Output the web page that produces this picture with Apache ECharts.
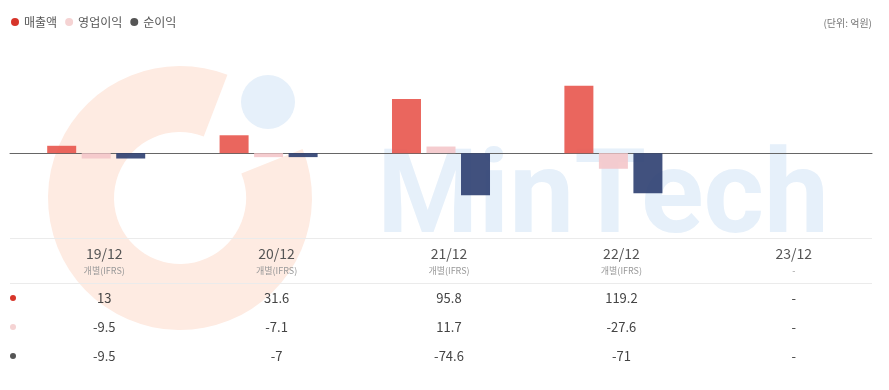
<!DOCTYPE html>
<html>
<head>
<meta charset="utf-8">
<script src="https://cdn.jsdelivr.net/npm/echarts@6/dist/echarts.min.js"></script>
<style>
  html, body { margin: 0; padding: 0; background: #fff; }
  #chart { width: 889px; height: 390px; }
</style>
</head>
<body>
<div id="chart"></div>
<script>
var periods = ['19/12', '20/12', '21/12', '22/12', '23/12'];
var basis = ['개별(IFRS)', '개별(IFRS)', '개별(IFRS)', '개별(IFRS)', '-'];
var seriesNames = ['매출액', '영업이익', '순이익'];
var sales = [13, 31.6, 95.8, 119.2, null];
var opProfit = [-9.5, -7.1, 11.7, -27.6, null];
var netProfit = [-9.5, -7, -74.6, -71, null];

var barColors = ['#e8554d', '#f4c7ca', '#2c3e70'];
var dotColors = ['#d7352a', '#f5d3d3', '#555555'];
var font = '"Noto Sans CJK KR", "Noto Sans", sans-serif';

var myChart = echarts.init(document.getElementById('chart'));

function fmt(v) {
	return v == null ? '-' : String(v);
}

// 표 행 (값 표시용 x축)
function rowAxis(values, margin) {
	return {
		type: 'category',
		gridIndex: 1,
		position: 'bottom',
		data: values.map(fmt),
		axisLine: { show: false },
		axisTick: { show: false },
		axisLabel: {
			interval: 0,
			margin: margin,
			color: '#444',
			fontSize: 13,
			fontFamily: font,
			lineHeight: 20
		}
	};
}

var allValues = [sales, opProfit, netProfit];

var option = {
	animation: false,
	backgroundColor: '#fff',
	legend: {
		left: 6,
		top: 11,
		icon: 'circle',
		itemWidth: 8,
		itemHeight: 8,
		itemGap: 8,
		textStyle: { color: '#555', fontSize: 12, fontFamily: font },
		data: seriesNames.map(function (n, i) {
			return { name: n, itemStyle: { color: dotColors[i], opacity: 1 } };
		})
	},
	grid: [
		{ left: 10, right: 17, top: 40, bottom: 152 },
		{ left: 18, right: 9, top: 236, height: 2 }
	],
	xAxis: [{
		type: 'category',
		gridIndex: 0,
		data: periods,
		axisLine: { onZero: true, lineStyle: { color: '#666', width: 1 } },
		axisTick: { show: false },
		axisLabel: { show: false }
	}, {
		type: 'category',
		gridIndex: 1,
		position: 'bottom',
		data: periods,
		axisLine: { show: false },
		axisTick: { show: false },
		axisLabel: {
			interval: 0,
			margin: 6,
			formatter: function (v, i) {
				return '{a|' + v + '}\n{b|' + basis[i] + '}';
			},
			rich: {
				a: { color: '#555', fontSize: 14, lineHeight: 20, fontFamily: font },
				b: { color: '#999', fontSize: 9, lineHeight: 14, fontFamily: font }
			}
		}
	},
		rowAxis(sales, 50),
		rowAxis(opProfit, 79),
		rowAxis(netProfit, 108)
	],
	yAxis: [{
		type: 'value',
		gridIndex: 0,
		min: -150,
		max: 200,
		show: false,
		splitLine: { show: false }
	}, {
		type: 'value',
		gridIndex: 1,
		show: false
	}],
	series: allValues.map(function (vals, i) {
		return {
			name: seriesNames[i],
			type: 'bar',
			xAxisIndex: 0,
			yAxisIndex: 0,
			barWidth: 29,
			barGap: '19%',
			data: vals,
			itemStyle: { color: barColors[i], opacity: 0.9 },
			z: 5
		};
	}),
	graphic: [
		// 워터마크
		{
			type: 'sector', z: -10, silent: true,
			shape: { cx: 180, cy: 198, r0: 66, r: 132, startAngle: -0.38, endAngle: 5.08, clockwise: true },
			style: { fill: '#feebe2' }
		},
		{
			type: 'circle', z: -10, silent: true,
			shape: { cx: 268, cy: 102, r: 27 },
			style: { fill: '#e6f0fa' }
		},
		{
			type: 'text', z: -10, silent: true,
			x: 377, y: 203,
			style: {
				text: 'MinTech', fill: '#e6f0fa',
				font: 'bold 116px Roboto', verticalAlign: 'middle'
			}
		},
		// 단위
		{
			type: 'text', right: 17, top: 18,
			style: { text: '(단위: 억원)', fill: '#777', fontSize: 10, fontFamily: font }
		},
		// 표 구분선
		{
			type: 'line', z: 1,
			shape: { x1: 10, y1: 238.5, x2: 872, y2: 238.5 },
			style: { stroke: '#ebebeb', lineWidth: 1 }
		},
		{
			type: 'line', z: 1,
			shape: { x1: 10, y1: 283.5, x2: 872, y2: 283.5 },
			style: { stroke: '#ebebeb', lineWidth: 1 }
		},
		// 행 표시 점
		{ type: 'circle', shape: { cx: 13, cy: 298, r: 3 }, style: { fill: dotColors[0] } },
		{ type: 'circle', shape: { cx: 13, cy: 327, r: 3 }, style: { fill: dotColors[1] } },
		{ type: 'circle', shape: { cx: 13, cy: 356, r: 3 }, style: { fill: dotColors[2] } }
	]
};

myChart.setOption(option);
window.addEventListener('resize', function () {
	myChart.resize();
}, false);
</script>
</body>
</html>
